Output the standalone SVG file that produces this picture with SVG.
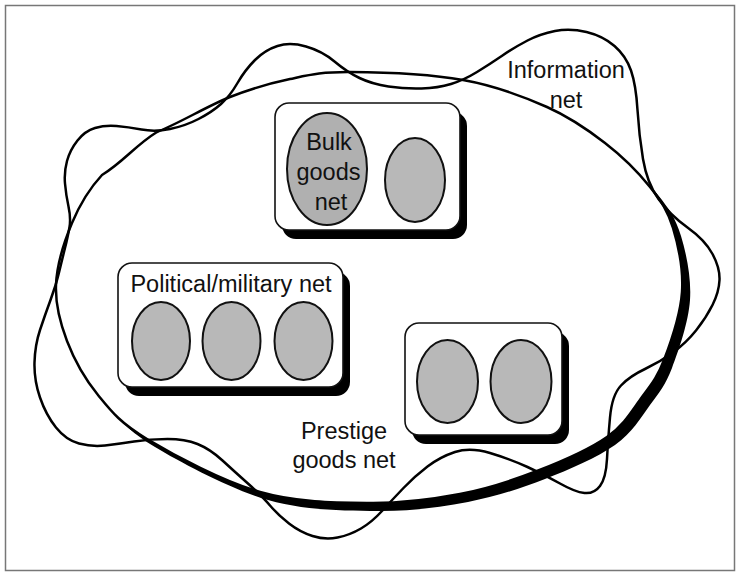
<svg xmlns="http://www.w3.org/2000/svg" xmlns:xlink="http://www.w3.org/1999/xlink" width="740" height="574" viewBox="0 0 740 574">
<style>
.lbl{font-family:"Liberation Sans",Arial,Helvetica,sans-serif;font-size:23.5px;fill:#111;text-anchor:middle}
.box{fill:#fff;stroke:#111;stroke-width:1.6}
.shadow{fill:#000}
.blob{fill:#b8b8b8;stroke:#111;stroke-width:2}
.blob2{fill:#b0b0b0;stroke:#111;stroke-width:2}
.wave{fill:none;stroke:#000;stroke-width:2.5;stroke-linejoin:round}
</style>
<defs>
<path id="bigE" d="M350,72 C378.8,72.2 430.2,74.2 463,80 C495.8,85.8 523.3,96.5 547,107 C570.7,117.5 587.8,129.7 605,143 C622.2,156.3 638.7,172.8 650,187 C661.3,201.2 667.7,210.5 673,228 C678.3,245.5 683.5,270 682,292 C680.5,314 670.7,342.5 664,360 C657.3,377.5 651.5,384.2 642,397 C632.5,409.8 624.5,424.7 607,437 C589.5,449.3 561.5,461.5 537,471 C512.5,480.5 487.8,488.7 460,494 C432.2,499.3 403.3,503.3 370,503 C336.7,502.7 297.2,502.7 260,492 C222.8,481.3 174,455.2 147,439 C120,422.8 111.3,411.3 98,395 C84.7,378.7 74,359.3 67,341 C60,322.7 55.2,304.7 56,285 C56.8,265.3 64.3,241.3 72,223 C79.7,204.7 87.8,190.2 102,175 C123.3,162 135.7,145 157,132 C179.2,123.2 207.8,105.8 230,97 C252.2,88.2 270,83.2 290,79 C310,74.8 321.2,71.8 350,72 Z"/>
</defs>
<rect id="frame" x="5.5" y="5.5" width="729" height="565" fill="#fff" stroke="#777" stroke-width="1.5"/>
<g id="prestige-goods-net">
<use xlink:href="#bigE" href="#bigE" class="shadow" transform="translate(8,8)"/>
<use xlink:href="#bigE" href="#bigE" fill="#fff" stroke="#000" stroke-width="2.5"/>
<text class="lbl" x="344" y="439">Prestige</text>
<text class="lbl" x="344" y="468">goods net</text>
</g>
<g id="information-net">
<path class="wave" d="M277.5,46 Q290,42 306,46.5 Q322,51 334.5,61.5 Q347,72 359.5,78 Q372,84 388.5,86.5 Q405,89 421.5,88.5 Q438,88 451,84 Q464,80 477,72 Q490,64 502.5,55.5 Q515,47 527.5,40.5 Q540,34 555,31 Q570,28 586.5,32 Q603,36 614.5,46 Q626,56 631,70.5 Q636,85 637.5,110 Q639,135 643,159 Q647,183 658.5,199 Q670,215 687.5,227.5 Q705,240 712.5,254 Q720,268 719.5,280 Q719,292 712.5,305 Q706,318 696,330.5 Q686,343 673,352.5 Q660,362 645,369 Q630,376 621,385.5 Q612,395 610,417.5 Q608,440 607,459 Q606,478 600,486 Q594,494 584.5,493 Q575,492 560,483.5 Q545,475 527.5,467 Q510,459 490,453 Q470,447 455,452 Q440,457 427.5,466.5 Q415,476 403.5,488 Q392,500 382,511 Q372,522 361,528.5 Q350,535 337.5,537.5 Q325,540 312.5,536 Q300,532 289,523.5 Q278,515 270,505.5 Q262,496 248.5,484 Q235,472 222.5,460.5 Q210,449 197.5,444 Q185,439 167.5,439 Q150,439 134,441.5 Q118,444 105,445.5 Q92,447 79,443.5 Q66,440 56,427.5 Q46,415 40,397.5 Q34,380 34.5,362.5 Q35,345 40,330 Q45,315 50.5,300 Q56,285 59,272.5 Q62,260 65,248 Q68,236 69.5,227 Q71,218 68.5,206.5 Q66,195 65,183.5 Q64,172 67,161 Q70,150 77.5,140.5 Q85,131 95,128 Q105,125 116.5,126 Q128,127 141.5,129.5 Q155,132 170,129 Q185,126 198.5,119 Q212,112 221,104 Q230,96 237.5,83 Q245,70 255,60 Q265,50 277.5,46 Z"/>
<text class="lbl" x="566" y="78">Information</text>
<text class="lbl" x="566" y="108">net</text>
</g>
<g id="bulk-goods-box">
<rect class="shadow" x="282" y="112" width="185" height="127" rx="14"/>
<rect class="box" x="275" y="103" width="185" height="127" rx="14"/>
<ellipse class="blob2" cx="327" cy="169" rx="40" ry="56"/>
<ellipse class="blob" cx="415" cy="180" rx="30" ry="42"/>
<text class="lbl" x="329" y="150">Bulk</text>
<text class="lbl" x="328.5" y="180">goods</text>
<text class="lbl" x="331" y="210">net</text>
</g>
<g id="political-military-box">
<rect class="shadow" x="125" y="272" width="225" height="124" rx="14"/>
<rect class="box" x="118" y="263" width="225" height="124" rx="14"/>
<text class="lbl" x="231" y="292">Political/military net</text>
<ellipse class="blob" cx="161" cy="341" rx="29" ry="39"/>
<ellipse class="blob" cx="231.5" cy="341" rx="29" ry="39"/>
<ellipse class="blob" cx="303.5" cy="341" rx="29" ry="39"/>
</g>
<g id="two-node-box">
<rect class="shadow" x="412" y="332" width="157" height="112" rx="14"/>
<rect class="box" x="405" y="323" width="157" height="112" rx="14"/>
<ellipse class="blob" cx="447.5" cy="381.5" rx="30.5" ry="41.5"/>
<ellipse class="blob" cx="521" cy="381.5" rx="30.5" ry="41.5"/>
</g>
</svg>
